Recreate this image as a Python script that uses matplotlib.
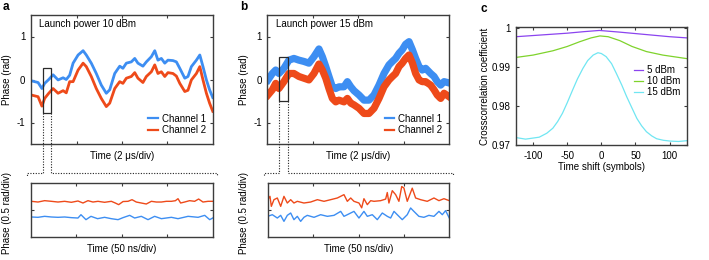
import matplotlib
matplotlib.use("Agg")
import matplotlib.pyplot as plt
from matplotlib.lines import Line2D
from matplotlib.patches import Rectangle

plt.rcParams['font.family'] = ['Liberation Sans', 'DejaVu Sans']
plt.rcParams['font.size'] = 7
plt.rcParams['axes.unicode_minus'] = False

# ---- data ----
# panel a, 10 dBm, time in us, phase in rad
t_a = [0.01, 0.31, 0.48, 0.60, 0.78, 0.97, 1.19, 1.41, 1.55, 1.70, 1.85, 2.07, 2.29, 2.43,
       2.65, 2.87, 3.09, 3.31, 3.46, 3.68, 3.90, 4.04, 4.19, 4.41, 4.56, 4.70, 4.92, 5.07,
       5.29, 5.44, 5.58, 5.73, 5.88, 6.02, 6.24, 6.39, 6.54, 6.76, 6.90, 7.05, 7.27, 7.42,
       7.56, 7.71, 7.85, 7.99]
ch1_a = [-0.03, -0.07, -0.21, -0.09, 0.00, 0.11, -0.01, 0.04, 0.00, 0.10, 0.38, 0.57, 0.67, 0.57,
         0.38, 0.14, -0.13, -0.32, -0.24, 0.14, 0.31, 0.26, 0.38, 0.41, 0.49, 0.38, 0.31, 0.41,
         0.53, 0.67, 0.45, 0.49, 0.38, 0.45, 0.44, 0.41, 0.26, 0.03, 0.07, 0.30, 0.45, 0.57,
         0.30, -0.01, -0.24, -0.42]
ch2_a = [-0.36, -0.40, -0.62, -0.44, -0.32, -0.21, -0.32, -0.26, -0.31, -0.05, -0.05, 0.22, 0.38, 0.30,
         0.07, -0.21, -0.44, -0.63, -0.55, -0.21, -0.05, -0.09, 0.03, 0.07, 0.16, 0.03, -0.07, 0.07,
         0.18, 0.34, 0.14, 0.18, 0.07, 0.16, 0.14, 0.08, -0.09, -0.28, -0.25, -0.01, 0.14, 0.30,
         -0.01, -0.32, -0.55, -0.74]

# panel b, 15 dBm
t_b = [0.03, 0.22, 0.37, 0.51, 0.73, 0.95, 1.17, 1.39, 1.61, 1.83, 2.05, 2.27, 2.42, 2.57,
       2.71, 2.86, 3.01, 3.15, 3.37, 3.52, 3.67, 3.81, 4.03, 4.25, 4.47, 4.69, 4.91, 5.13,
       5.35, 5.50, 5.64, 5.79, 5.93, 6.08, 6.23, 6.38, 6.52, 6.67, 6.81, 6.96, 7.18, 7.33,
       7.47, 7.62, 7.77, 7.99]
ch1_b = [-0.01, 0.14, 0.22, 0.14, 0.26, 0.45, 0.49, 0.45, 0.42, 0.38, 0.53, 0.71, 0.53, 0.30,
         0.07, -0.17, -0.21, -0.17, -0.17, -0.05, -0.17, -0.26, -0.36, -0.48, -0.48, -0.36, -0.13, 0.14,
         0.34, 0.42, 0.49, 0.61, 0.69, 0.82, 0.88, 0.69, 0.49, 0.30, 0.22, 0.26, 0.14, 0.07,
         -0.05, -0.13, -0.05, -0.08]
ch2_b = [-0.36, -0.24, -0.09, -0.21, -0.05, 0.14, 0.14, 0.07, 0.03, -0.01, 0.14, 0.36, 0.22, 0.03,
         -0.21, -0.44, -0.52, -0.48, -0.52, -0.44, -0.55, -0.59, -0.67, -0.79, -0.79, -0.67, -0.44, -0.17,
         -0.01, 0.07, 0.14, 0.30, 0.38, 0.49, 0.57, 0.38, 0.14, -0.01, -0.05, -0.05, -0.13, -0.24,
         -0.36, -0.44, -0.32, -0.40]

# zoom boxes (us, rad)
box_a = [0.54, 0.88, -0.79, 0.26]
box_b = [0.52, 0.90, -0.50, 0.53]

# zoomed traces, time in ns, phase in rad
tz_a1 = [0.4, 7.7, 15, 22.4, 29.7, 37, 44.4, 51.7, 55, 60.5, 66, 73.3, 81, 88.4, 95.8, 101.3,
         108.6, 114.1, 121.4, 128.8, 136.1, 143.5, 154.5, 161.8, 172.9, 183.9, 191.2, 196.7, 200]
z_a1 = [0.372, 0.366, 0.384, 0.372, 0.366, 0.372, 0.360, 0.353, 0.414, 0.323, 0.384, 0.341, 0.366,
        0.341, 0.323, 0.360, 0.402, 0.353, 0.384, 0.323, 0.384, 0.341, 0.366, 0.341, 0.384, 0.366,
        0.402, 0.323, 0.353]
tz_a2 = [0.4, 7.7, 15, 22.4, 29.7, 37, 44.4, 51.7, 57.2, 62.7, 68.2, 73.7, 81, 88.4, 92.8, 96.5,
         101.3, 106.8, 111.2, 115.9, 121.4, 126.9, 132.5, 138, 143.5, 149, 154.5, 158.9, 161.8,
         164.7, 169.1, 174.6, 180.1, 184.5, 189.3, 194.8, 200]
z_a2 = [0.659, 0.646, 0.671, 0.659, 0.646, 0.659, 0.641, 0.665, 0.628, 0.671, 0.646, 0.659, 0.641,
        0.659, 0.628, 0.598, 0.655, 0.659, 0.689, 0.646, 0.628, 0.610, 0.659, 0.646, 0.646, 0.659,
        0.659, 0.670, 0.707, 0.628, 0.646, 0.671, 0.659, 0.701, 0.646, 0.659, 0.659]

tz_b1 = [0, 5.1, 10.6, 14.3, 17.9, 21.6, 25.3, 28.9, 32.6, 36.3, 39.9, 43.6, 51, 58.3, 65.7, 73,
         80.4, 84, 87.7, 95, 100.5, 106, 109.7, 115.2, 120.7, 126.2, 131.7, 135.4, 139.1, 142.7,
         148.2, 153.7, 157.4, 161, 166.5, 172, 177.5, 183.1, 188.6, 192.3, 195.9, 200]
z_b1 = [0.384, 0.414, 0.353, 0.402, 0.292, 0.402, 0.445, 0.323, 0.384, 0.292, 0.366, 0.402, 0.366,
        0.414, 0.384, 0.402, 0.475, 0.384, 0.414, 0.475, 0.353, 0.475, 0.384, 0.414, 0.323, 0.445,
        0.384, 0.353, 0.475, 0.414, 0.323, 0.414, 0.537, 0.475, 0.384, 0.366, 0.402, 0.384, 0.475,
        0.414, 0.488, 0.353]
tz_b2 = [0, 2.5, 4, 6.9, 10.6, 14.3, 17.9, 21.6, 25.3, 28.9, 32.6, 39.9, 47.3, 54.7, 62, 69.3,
         76.7, 84, 87.7, 91.4, 95, 100.5, 103.5, 106, 109.7, 113.4, 117, 124.4, 129.9, 131.7, 133.5,
         137.2, 140.9, 144.5, 147.6, 150, 153.7, 159.2, 162.9, 168.4, 175.7, 183.1, 188.6, 194.1,
         200]
z_b2 = [0.689, 0.750, 0.567, 0.689, 0.720, 0.567, 0.750, 0.628, 0.689, 0.628, 0.659, 0.628, 0.646,
        0.689, 0.659, 0.689, 0.720, 0.781, 0.659, 0.720, 0.659, 0.628, 0.540, 0.707, 0.598, 0.671,
        0.659, 0.671, 0.700, 0.820, 0.628, 0.854, 0.781, 0.659, 0.930, 0.903, 0.659, 0.900, 0.720,
        0.689, 0.659, 0.720, 0.671, 0.707, 0.671]

# panel c, crosscorrelation vs time shift (symbols)
shift_5 = [-125, -100, -75, -50, -25, -3, 25, 50, 75, 100, 125]
cc_5 = [0.9977, 0.9980, 0.9983, 0.9986, 0.9990, 0.9993, 0.9989, 0.9985, 0.9981, 0.9977, 0.9974]
shift_10 = [-125, -100, -71, -50, -32, -15, -2, 10, 27, 45, 66, 90, 125]
cc_10 = [0.9924, 0.9930, 0.9941, 0.9952, 0.9964, 0.9974, 0.9979, 0.9977, 0.9967, 0.9952, 0.9939,
         0.9930, 0.9921]
shift_15 = [-125, -111, -91, -80, -71, -64, -57, -50, -42, -35, -27, -20, -12, -5, 0, 7, 15, 22,
            30, 37, 45, 52, 59, 66, 74, 81, 91, 101, 113, 125]
cc_15 = [0.9719, 0.9715, 0.9720, 0.9730, 0.9743, 0.9760, 0.9781, 0.9808, 0.9841, 0.9869, 0.9896,
         0.9916, 0.9930, 0.9936, 0.9934, 0.9926, 0.9908, 0.9883, 0.9853, 0.9824, 0.9794, 0.9768,
         0.9749, 0.9734, 0.9723, 0.9716, 0.9712, 0.9710, 0.9709, 0.9711]

blue = '#3d8ef2'
red = '#ee4a1a'
c5, c10, c15 = '#8b44ef', '#7fd32c', '#70e6f2'
spine_col = '#3c3c3c'

W, H = 709, 260
fig = plt.figure(figsize=(W / 100, H / 100), dpi=100)


def px_axes(l, t, r, b):
    return fig.add_axes([l / W, 1 - b / H, (r - l) / W, (b - t) / H])


def style(ax):
    for s in ax.spines.values():
        s.set_color(spine_col)
        s.set_linewidth(1.0)
    ax.tick_params(direction='in', top=True, right=True, length=2.3, width=0.8,
                   colors=spine_col, labelcolor='black', labelsize=7, pad=4)


ax_a = px_axes(31, 15, 213, 144)
ax_b = px_axes(267.3, 15, 449.3, 144)
ax_c = px_axes(516, 26.7, 686.7, 145)
ax_az = px_axes(31, 182.7, 212.7, 237.3)
ax_bz = px_axes(267.7, 182.7, 449.3, 237.3)

for ax in (ax_a, ax_b, ax_c, ax_az, ax_bz):
    style(ax)

# top traces (line width stands in for the noise band)
for ax, t, c1, c2, lw in ((ax_a, t_a, ch1_a, ch2_a, 2.0), (ax_b, t_b, ch1_b, ch2_b, 5.2)):
    ax.plot(t, c1, color=blue, lw=lw, solid_joinstyle='round')
    ax.plot(t, c2, color=red, lw=lw, solid_joinstyle='round')
    ax.set_xlim(0, 8)
    ax.set_ylim(-1.5, 1.5)
    ax.set_xticks([2, 4, 6])
    ax.set_xticklabels([])
    ax.set_yticks([-1, 0, 1])
    ax.set_yticklabels(['-1', '0', '1'])
    handles = [Line2D([], [], color=blue, lw=1.6), Line2D([], [], color=red, lw=1.6)]
    ax.legend(handles, ['Channel 1', 'Channel 2'], loc='lower right', frameon=False,
              handlelength=1.0, handletextpad=0.4, labelspacing=0.15,
              bbox_to_anchor=(1.0, 0.015), borderaxespad=0.3, fontsize=7)

ax_a.text(0.046, 0.93, 'Launch power 10 dBm', transform=ax_a.transAxes, va='center', ha='left', fontsize=7)
ax_b.text(0.048, 0.93, 'Launch power 15 dBm', transform=ax_b.transAxes, va='center', ha='left', fontsize=7)

# zoomed traces
for ax, t1, z1, t2, z2 in ((ax_az, tz_a1, z_a1, tz_a2, z_a2), (ax_bz, tz_b1, z_b1, tz_b2, z_b2)):
    ax.plot(t1, z1, color=blue, lw=1.0)
    ax.plot(t2, z2, color=red, lw=1.0)
    ax.set_xlim(0, 200)
    ax.set_ylim(0, 1)
    ax.set_xticks([50, 100, 150])
    ax.set_yticks([0.5])
    ax.set_xticklabels([])
    ax.set_yticklabels([])

# boxes and dotted connectors
inv = fig.transFigure.inverted()
y_bar = 1 - 172.5 / H
y_end = 1 - 175.5 / H
for ax, ax_z, box in ((ax_a, ax_az, box_a), (ax_b, ax_bz, box_b)):
    x0, x1, y0, y1 = box
    ax.add_patch(Rectangle((x0, y0), x1 - x0, y1 - y0, fill=False, ec='#2a2a2a', lw=0.9, zorder=5))
    p0 = inv.transform(ax.transData.transform((x0, y0)))
    p1 = inv.transform(ax.transData.transform((x1, y0)))
    pos = ax_z.get_position()
    left = pos.x0 - 4 / W
    right = pos.x1 + 4 / W
    kw = dict(color='#222222', lw=0.8, ls=(0, (1, 1.4)), transform=fig.transFigure)
    fig.add_artist(Line2D([p0[0], p0[0], left, left], [p0[1], y_bar, y_bar, y_end], **kw))
    fig.add_artist(Line2D([p1[0], p1[0], right, right], [p1[1], y_bar, y_bar, y_end], **kw))

# panel c
ax_c.plot(shift_5, cc_5, color=c5, lw=0.9, label='5 dBm')
ax_c.plot(shift_10, cc_10, color=c10, lw=0.9, label='10 dBm')
ax_c.plot(shift_15, cc_15, color=c15, lw=0.9, label='15 dBm')
ax_c.set_xlim(-125, 125)
ax_c.set_ylim(0.97, 1.00026)
ax_c.set_xticks([-100, -50, 0, 50, 100])
ax_c.set_yticks([0.97, 0.98, 0.99, 1.0])
ax_c.set_yticklabels(['0.97', '0.98', '0.99', '1'])
ax_c.legend(loc='upper right', frameon=False, handlelength=0.95, handletextpad=0.35,
            labelspacing=0.1, bbox_to_anchor=(1.0, 0.73), borderaxespad=0.3, fontsize=7)


# axis labels (placed in figure pixels)
def ftext(x, y, s, size=7, **kw):
    fig.text(x / W, 1 - y / H, s, ha='center', va='center', fontsize=size, **kw)


ftext(7.3, 80, 'Phase (rad)', rotation=90)
ftext(244, 80, 'Phase (rad)', rotation=90)
ftext(485, 86, 'Crosscorrelation coefficient', rotation=90)
ftext(7.3, 213, 'Phase (0.5 rad/div)', rotation=90)
ftext(244, 213, 'Phase (0.5 rad/div)', rotation=90)
ftext(122, 156, 'Time (2 μs/div)')
ftext(358.3, 156, 'Time (2 μs/div)')
ftext(122, 249.5, 'Time (50 ns/div)')
ftext(358.5, 249.5, 'Time (50 ns/div)')
ftext(601.5, 167, 'Time shift (symbols)')

ftext(5.5, 7.5, 'a', size=8.5, fontweight='bold')
ftext(243.5, 7.5, 'b', size=8.5, fontweight='bold')
ftext(483.5, 8.5, 'c', size=8.5, fontweight='bold')

fig.savefig('out.png', dpi=100)
